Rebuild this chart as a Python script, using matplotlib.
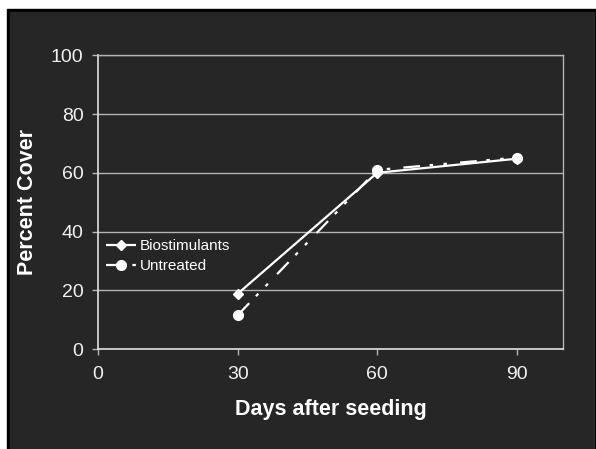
import matplotlib
matplotlib.use("Agg")
import matplotlib.pyplot as plt
from matplotlib.patches import Rectangle

# Percent cover over time
dias = [30, 60, 90]
biostimulants = [18.8, 60.0, 64.8]
untreated = [11.5, 61.0, 65.2]

x_ticks = [0, 30, 60, 90]
y_ticks = [0, 20, 40, 60, 80, 100]

plt.rcParams['font.family'] = ['Liberation Sans', 'DejaVu Sans']
plt.rcParams['lines.scale_dashes'] = False

fondo = '#262626'
gris = '#b4b4b4'

fig = plt.figure(figsize=(5.96, 4.49), dpi=100, facecolor='white')

# marco negro y fondo oscuro de la diapositiva
fig.add_artist(Rectangle((7 / 596, 0), 589 / 596, 440 / 449,
                         transform=fig.transFigure, color='black', zorder=-20))
fig.add_artist(Rectangle((10 / 596, 0), 584 / 596, 437 / 449,
                         transform=fig.transFigure, color=fondo, zorder=-10))

ax = fig.add_axes([0.1644, 0.2227, 0.7810, 0.6541])
ax.set_facecolor(fondo)

ax.plot(dias, biostimulants, color='white', lw=1.6, marker='D', ms=5.5,
        label='Biostimulants', solid_capstyle='butt')
ax.plot(dias, untreated, color='white', lw=1.6, marker='o', ms=7,
        dashes=[12, 7, 2.5, 7.5, 2.5, 9.5], label='Untreated')

ax.set_xlim(0, 100)
ax.set_ylim(0, 100)
ax.set_xticks(x_ticks)
ax.set_yticks(y_ticks)

ax.grid(axis='y', color=gris, lw=1)
ax.set_axisbelow(True)

for lado in ['top', 'right']:
    ax.spines[lado].set_color(gris)
    ax.spines[lado].set_linewidth(1)
for lado in ['left', 'bottom']:
    ax.spines[lado].set_color('#e0e0e0')
    ax.spines[lado].set_linewidth(1.2)

ax.tick_params(axis='both', colors=gris, labelcolor='#f0f0f0', labelsize=14,
               length=4.5, width=1, direction='out')
ax.tick_params(axis='x', pad=8)
ax.tick_params(axis='y', pad=6)

ax.set_xlabel('Days after seeding', color='white', fontsize=15.5,
              fontweight='bold', labelpad=11)
ax.set_ylabel('Percent Cover', color='white', fontsize=15.5,
              fontweight='bold', labelpad=9)

leg = ax.legend(loc='upper left', bbox_to_anchor=(0.0, 0.40), frameon=False,
                fontsize=11, labelcolor='white', handlelength=2.0,
                handletextpad=0.25, borderaxespad=0.1, labelspacing=0.4)

fig.savefig('out.png', dpi=100, facecolor=fig.get_facecolor())
